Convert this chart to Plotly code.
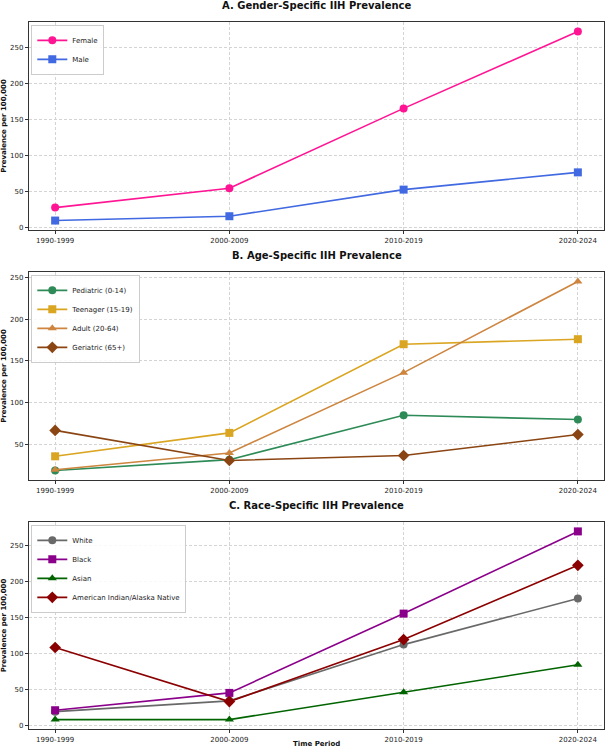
import plotly.graph_objects as go

periods = ["1990-1999", "2000-2009", "2010-2019", "2020-2024"]

female = [28, 55, 166, 273]
male = [10, 16, 53, 77]

pediatric = [19, 32, 85, 80]
teenager = [36, 64, 170, 176]
adult = [20, 40, 136, 245]
geriatric = [67, 31, 37, 62]

white = [19, 34, 112, 176]
black = [21, 45, 155, 269]
asian = [8, 8, 46, 84]
aian = [108, 33, 119, 222]

FONT = "DejaVu Sans"
W, H = 605, 750
ML, MR, MT, MB = 29, 1, 22, 21
PH = H - MT - MB

def py(pix):
    return (H - MB - pix) / PH

domains = [
    [py(230), py(22)],
    [py(480), py(272)],
    [py(729), py(522)],
]

fig = go.Figure()

panels = [
    ("A. Gender-Specific IIH Prevalence", [
        ("Female", female, "#FF1493", "circle"),
        ("Male", male, "#4169E1", "square"),
    ], [0, 50, 100, 150, 200, 250]),
    ("B. Age-Specific IIH Prevalence", [
        ("Pediatric (0-14)", pediatric, "#2E8B57", "circle"),
        ("Teenager (15-19)", teenager, "#DAA520", "square"),
        ("Adult (20-64)", adult, "#CD853F", "triangle-up"),
        ("Geriatric (65+)", geriatric, "#8B4513", "diamond"),
    ], [50, 100, 150, 200, 250]),
    ("C. Race-Specific IIH Prevalence", [
        ("White", white, "#696969", "circle"),
        ("Black", black, "#8B008B", "square"),
        ("Asian", asian, "#006400", "triangle-up"),
        ("American Indian/Alaska Native", aian, "#8B0000", "diamond"),
    ], [0, 50, 100, 150, 200, 250]),
]

layout = dict(
    template="none",
    width=W, height=H,
    margin=dict(l=ML, r=MR, t=MT, b=MB, autoexpand=False),
    paper_bgcolor="white", plot_bgcolor="white",
    font=dict(family=FONT, size=7, color="#222"),
    annotations=[],
)

GRID = dict(showgrid=True, gridcolor="#d4d4d4", griddash="3px,2px", gridwidth=0.8)

for i, (title, series, yt) in enumerate(panels):
    n = i + 1
    xa = "x" if n == 1 else f"x{n}"
    ya = "y" if n == 1 else f"y{n}"
    leg = "legend" if n == 1 else f"legend{n}"
    allv = [v for s in series for v in s[1]]
    lo, hi = min(allv), max(allv)
    pad = (hi - lo) * 0.05
    for name, vals, col, sym in series:
        fig.add_trace(go.Scatter(
            x=periods, y=vals, name=name, mode="lines+markers",
            line=dict(color=col, width=1.6),
            marker=dict(symbol=sym, size=8 if sym != "diamond" else 9, color=col),
            xaxis=xa, yaxis=ya, legend=leg,
        ))
    axkey = "xaxis" if n == 1 else f"xaxis{n}"
    aykey = "yaxis" if n == 1 else f"yaxis{n}"
    layout[axkey] = dict(
        domain=[0, 1], anchor=ya, type="category",
        range=[-0.15, 3.15], automargin=False,
        showline=True, mirror=True, linecolor="#333", linewidth=1.3,
        ticks="outside", ticklen=3, tickcolor="#333",
        tickfont=dict(size=7, family=FONT, color="#222"),
        zeroline=False, **GRID,
    )
    layout[aykey] = dict(
        domain=domains[i], anchor=xa, automargin=False,
        range=[lo - pad, hi + pad],
        tickvals=yt,
        showline=True, mirror=True, linecolor="#333", linewidth=1.3,
        ticks="outside", ticklen=3, tickcolor="#333",
        tickfont=dict(size=7, family=FONT, color="#222"),
        zeroline=False, **GRID,
        title=dict(text="<b>Prevalence per 100,000</b>", font=dict(size=7, family=FONT, color="#111"), standoff=4),
    )
    layout[leg] = dict(
        x=0.004, y=domains[i][1] - 0.004, xanchor="left", yanchor="top",
        bgcolor="rgba(255,255,255,0.85)", bordercolor="#cccccc", borderwidth=1,
        font=dict(size=7, family=FONT, color="#222"),
        itemwidth=30, tracegroupgap=0,
    )
    layout["annotations"].append(dict(
        text=f"<b>{title}</b>", xref="paper", yref="paper",
        x=0.5, y=domains[i][1], xanchor="center", yanchor="bottom",
        yshift=9, showarrow=False, font=dict(size=10, family=FONT, color="#111"),
    ))

layout["annotations"].append(dict(
    text="<b>Time Period</b>", xref="paper", yref="paper",
    x=0.5, y=0, xanchor="center", yanchor="middle", yshift=-15,
    showarrow=False, font=dict(size=7, family=FONT, color="#111"),
))

fig.update_layout(**layout)
fig.write_html(
    "out.html",
    config={"displayModeBar": False},
    post_script="document.body.style.margin='0';document.body.style.overflow='hidden';",
)
